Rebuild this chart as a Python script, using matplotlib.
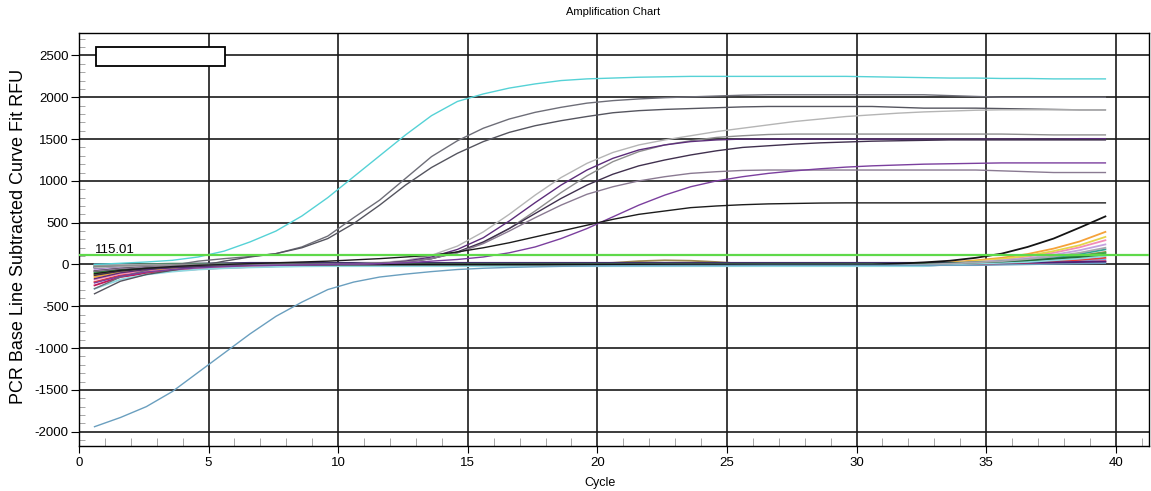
import matplotlib
matplotlib.use('Agg')
import matplotlib.pyplot as plt
import numpy as np
from matplotlib.patches import Rectangle
from matplotlib.ticker import MultipleLocator

plt.rcParams['font.family'] = ['Liberation Sans', 'DejaVu Sans']
plt.rcParams['axes.unicode_minus'] = False

## Data (one value per cycle)
cycles = np.arange(1, 41) - 0.4
threshold = 115.01

# big amplification curves
cyan_curve = [0, 15, 30, 50, 90, 160, 270, 400, 580, 800,
              1050, 1300, 1550, 1780, 1950, 2040, 2110, 2160, 2200, 2220,
              2230, 2240, 2245, 2250, 2250, 2250, 2250, 2250, 2250, 2250,
              2245, 2240, 2235, 2230, 2230, 2225, 2225, 2220, 2220, 2220]
blue_negative = [-1940, -1830, -1700, -1520, -1290, -1060, -830, -620, -450, -300,
                 -210, -150, -115, -85, -60, -45, -35, -28, -22, -18,
                 -15, -14, -13, -12, -12, -11, -10, -10, -10, -10,
                 -10, -10, -10, -10, -10, -5, 0, 5, 10, 15]
gray_upper = [-290, -150, -70, -10, 40, 70, 95, 130, 210, 340,
              560, 770, 1030, 1290, 1480, 1630, 1740, 1820, 1880, 1930,
              1960, 1980, 1995, 2005, 2015, 2025, 2030, 2030, 2030, 2030,
              2030, 2030, 2030, 2020, 2010, 2000, 2000, 2000, 2000, 2000]
gray_lower = [-350, -200, -120, -70, -20, 40, 90, 130, 200, 310,
              490, 710, 950, 1160, 1330, 1470, 1580, 1660, 1720, 1770,
              1815, 1840, 1855, 1865, 1875, 1885, 1890, 1890, 1890, 1890,
              1890, 1880, 1870, 1870, 1870, 1865, 1860, 1855, 1850, 1850]
silver = [-40, -25, -15, -10, -5, 0, 0, 0, 0, 5,
          10, 20, 50, 110, 220, 390, 600, 830, 1040, 1210,
          1340, 1430, 1490, 1540, 1590, 1630, 1670, 1710, 1740, 1770,
          1790, 1810, 1825, 1835, 1845, 1850, 1850, 1850, 1850, 1850]
purple_1500 = [-170, -100, -60, -40, -25, -15, -10, -5, 0, 0,
               5, 10, 40, 90, 180, 320, 520, 740, 950, 1130,
               1270, 1370, 1430, 1470, 1490, 1500, 1500, 1500, 1500, 1500,
               1500, 1500, 1500, 1500, 1500, 1500, 1500, 1500, 1505, 1505]
gray_1560 = [-20, -15, -10, -5, 0, 0, 0, 0, 0, 0,
             5, 15, 30, 70, 140, 260, 430, 640, 860, 1060,
             1230, 1350, 1430, 1480, 1520, 1540, 1555, 1560, 1560, 1560,
             1560, 1560, 1560, 1560, 1560, 1560, 1555, 1550, 1550, 1550]
dark_1490 = [-130, -80, -50, -30, -20, -10, -5, 0, 0, 0,
             5, 15, 30, 70, 150, 270, 430, 610, 790, 950,
             1080, 1180, 1250, 1310, 1360, 1400, 1420, 1440, 1455, 1465,
             1475, 1480, 1485, 1490, 1490, 1490, 1490, 1490, 1490, 1490]
mauve_1100 = [-80, -50, -30, -20, -10, -5, 0, 0, 0, 0,
              5, 15, 30, 70, 140, 250, 400, 560, 710, 840,
              930, 1000, 1050, 1090, 1110, 1125, 1130, 1130, 1130, 1130,
              1130, 1130, 1130, 1130, 1130, 1120, 1110, 1100, 1100, 1100]
purple_late = [-220, -140, -90, -60, -40, -25, -15, -10, -5, 0,
               5, 10, 20, 40, 60, 90, 140, 210, 310, 430,
               570, 710, 830, 930, 1000, 1050, 1090, 1120, 1145, 1165,
               1180, 1190, 1200, 1205, 1210, 1215, 1215, 1215, 1215, 1215]
black_730 = [-110, -70, -45, -25, -10, 0, 10, 20, 30, 40,
             55, 70, 90, 110, 150, 200, 260, 330, 400, 470,
             540, 600, 640, 680, 700, 715, 725, 730, 735, 737,
             737, 737, 737, 737, 737, 737, 737, 737, 737, 737]

# flat curves near the baseline, rising only at the very end
black_late = ([-80, -50, -30, -20, -10, -5, 0, 0, 0, 0] + [0] * 21
              + [10, 25, 45, 80, 130, 210, 310, 440, 575])
crimson = ([-250, -150, -105, -75, -55, -40, -30, -20, -15, -10] + [-10] * 23
           + [-5, 0, 5, 12, 20, 30, 40])
red = ([-210, -130, -90, -65, -45, -30, -20, -12, -6, 0] + [0] * 23
       + [5, 10, 15, 25, 40, 55, 80])
pink = ([-180, -110, -75, -55, -40, -28, -20, -12, -8, -5] + [-5] * 23
        + [15, 35, 60, 95, 140, 205, 290])
orange = ([-150, -90, -60, -45, -30, -20, -12, -5, 0, 5] + [5] * 23
          + [25, 50, 80, 125, 190, 275, 390])
yellow = ([-130, -80, -55, -40, -28, -18, -10, -5, 0, 0] + [0] * 23
          + [20, 40, 65, 105, 160, 230, 330])
olive = ([-120, -75, -50, -35, -25, -15, -8, 0, 5, 10] + [10] * 10
         + [20, 40, 50, 45, 30, 10] + [10] * 7
         + [10, 20, 30, 50, 75, 105, 150])
green = ([-100, -60, -40, -30, -20, -12, -5, 0, 5, 5] + [5] * 23
         + [10, 20, 30, 45, 70, 100, 140])
lavender = ([-60, -35, -20, -10, -5, 0, 5, 10, 15, 15] + [15] * 23
            + [15, 30, 50, 75, 115, 170, 240])
teal = ([-30, -15, -5, 0, 5, 5, 0, -5, -5, -5] + [-5] * 23
        + [10, 20, 35, 60, 85, 125, 180])
dark_purple = ([-40, -20, -5, 5, 10, 15, 20, 20, 20, 20] + [20] * 23
               + [20, 20, 20, 25, 25, 30, 30])
light_cyan = ([-290, -180, -120, -85, -60, -45, -35, -28, -22, -20] + [-20] * 23
              + [0, 10, 20, 30, 50, 70, 100])
dark_green = ([-20, -5, 5, 10, 10, 10, 10, 10, 10, 10] + [10] * 23
              + [15, 25, 35, 50, 70, 90, 120])
light_blue = ([0, -5, -10, -15, -15, -15, -15, -15, -15, -15] + [-15] * 23
              + [0, 5, 10, 20, 30, 45, 60])
light_gray = ([-10, -5, 0, 0, 0, 0, 0, 0, 0, 0] + [0] * 23
              + [10, 25, 40, 65, 95, 140, 200])

low_curves = [
    (light_blue, '#7aaee0'), (crimson, '#c0185a'), (red, '#e23b3b'),
    (pink, '#f28cb8'), (orange, '#f5a23a'), (yellow, '#e6d44a'),
    (olive, '#9c8a4c'), (green, '#3fae49'), (lavender, '#c4a2e0'),
    (teal, '#2fa596'), (dark_purple, '#4b1f7a'), (light_cyan, '#8fd8e0'),
    (dark_green, '#1f6e3c'), (light_gray, '#a8a8b0'), (black_late, '#141414'),
]
big_curves = [
    (blue_negative, '#6a9fbf'), (cyan_curve, '#55d2d6'),
    (gray_upper, '#6e6e78'), (gray_lower, '#55555f'),
    (silver, '#b5b5b5'), (gray_1560, '#8f8f8f'), (purple_1500, '#5c2d7a'),
    (dark_1490, '#40304e'), (mauve_1100, '#8a7a92'),
    (purple_late, '#7b3f9e'), (black_730, '#1c1c1c'),
]

## Figure
fig = plt.figure(figsize=(11.51, 4.91), dpi=100)
ax = fig.add_axes([0.0686, 0.0923, 0.9296, 0.8395])

for vals, color in low_curves:
    ax.plot(cycles, vals, color=color, lw=1.3, zorder=2)
for vals, color in big_curves:
    ax.plot(cycles, vals, color=color, lw=1.0, zorder=2)

ax.axhline(threshold, color='#5fd94a', lw=1.6, zorder=3)
ax.text(0.62, 140, '%.2f' % threshold, fontsize=9.5, va='baseline', zorder=4)

# empty legend box
ax.add_patch(Rectangle((0.64, 2378), 5.0, 227, fc='white', ec='black', lw=1.3, zorder=5))

ax.set_xlim(0, 41.28)
ax.set_ylim(-2167, 2763)
ax.xaxis.set_major_locator(MultipleLocator(5))
ax.xaxis.set_minor_locator(MultipleLocator(1))
ax.yaxis.set_major_locator(MultipleLocator(500))
ax.yaxis.set_minor_locator(MultipleLocator(100))
ax.grid(which='major', color='#1a1a1a', lw=1.2)
ax.set_axisbelow(True)

ax.tick_params(axis='both', which='major', direction='out', labelsize=9.5, color='black')
ax.tick_params(axis='x', which='major', length=5, pad=3)
ax.tick_params(axis='y', which='major', length=6, pad=1.5)
ax.tick_params(axis='x', which='minor', direction='in', length=5.8, color='#999999')
ax.tick_params(axis='y', which='minor', direction='in', length=4.3, color='#999999')
for spine in ax.spines.values():
    spine.set_color('black')
    spine.set_linewidth(1.0)

fig.text(0.5326, 0.975, 'Amplification Chart', ha='center', va='center', fontsize=8)
fig.text(0.5213, 0.0163, 'Cycle', ha='center', va='center', fontsize=9)
fig.text(0.0165, 0.518, 'PCR Base Line Subtracted Curve Fit RFU', rotation=90,
         ha='center', va='center', fontsize=13)

fig.savefig('out.png', dpi=100)
